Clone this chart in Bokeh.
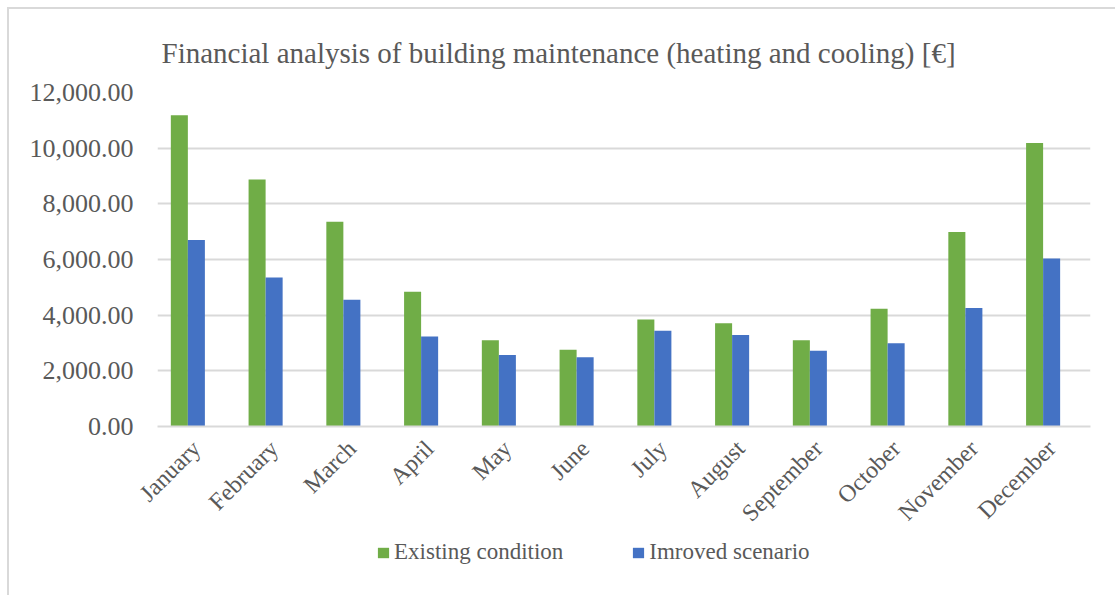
from bokeh.plotting import figure
from bokeh.models import ColumnDataSource, Range1d, NumeralTickFormatter, Legend, LegendItem, FixedTicker, Label
from bokeh.layouts import column
from bokeh.transform import dodge
from bokeh.embed import file_html
from bokeh.resources import INLINE
import math

months = ["January", "February", "March", "April", "May", "June", "July",
          "August", "September", "October", "November", "December"]
existing = [11180, 8870, 7360, 4840, 3100, 2760, 3840, 3710, 3100, 4230, 6990, 10190]
improved = [6700, 5350, 4550, 3230, 2570, 2490, 3440, 3290, 2720, 2990, 4260, 6040]
y_ticks = [0, 2000, 4000, 6000, 8000, 10000, 12000]

title_text = "Financial analysis of building maintenance (heating and cooling) [€]"
series_names = ["Existing condition", "Imroved scenario"]

GREEN = "#70ad47"
BLUE = "#4472c4"
TEXT = "#595959"
GRID = "#d9d9d9"
FONT = "Liberation Serif"

source = ColumnDataSource(dict(month=months, existing=existing, improved=improved))

# ---- title strip ----
p0 = figure(width=1106, height=60, x_range=Range1d(157, 1090), y_range=Range1d(69, 9),
            output_backend="svg", toolbar_location=None, title_location=None,
            x_axis_type=None, y_axis_type=None, min_border=0)
p0.outline_line_color = None
p0.xgrid.grid_line_color = None
p0.ygrid.grid_line_color = None
p0.add_layout(Label(x=161, y=52, text=title_text, text_font=FONT, text_font_size="29px",
                    text_color=TEXT, text_baseline="alphabetic", text_align="left"))

# ---- main chart ----
p = figure(width=1106, height=470, x_range=months, y_range=Range1d(0, 12000),
           output_backend="svg", toolbar_location=None, title_location=None,
           min_border_left=148, min_border_right=25, min_border_top=23, min_border_bottom=113)
p.outline_line_color = None
p.background_fill_color = "white"
p.border_fill_color = "white"

bw = 0.219
r1 = p.vbar(x=dodge("month", -bw, range=p.x_range), top="existing", width=bw,
            source=source, fill_color=GREEN, line_color=None)
r2 = p.vbar(x=dodge("month", 0.0, range=p.x_range), top="improved", width=bw,
            source=source, fill_color=BLUE, line_color=None)

p.yaxis.ticker = FixedTicker(ticks=y_ticks)
p.yaxis.formatter = NumeralTickFormatter(format="0,0.00")
p.yaxis.major_label_text_font = FONT
p.yaxis.major_label_text_font_size = "26px"
p.yaxis.major_label_text_color = TEXT
p.yaxis.axis_line_color = None
p.yaxis.major_tick_line_color = None
p.yaxis.minor_tick_line_color = None
p.yaxis.major_label_standoff = 18

p.xaxis.major_label_orientation = math.pi / 4
p.xaxis.major_label_text_font = FONT
p.xaxis.major_label_text_font_size = "24px"
p.xaxis.major_label_text_color = TEXT
p.xaxis.axis_line_color = GRID
p.xaxis.axis_line_width = 2
p.xaxis.major_tick_line_color = None
p.xaxis.minor_tick_line_color = None
p.xaxis.major_label_standoff = 12

p.xgrid.grid_line_color = None
p.ygrid.grid_line_color = GRID
p.ygrid.grid_line_width = 2
p.x_range.range_padding = 0

# ---- legend strip ----
p2 = figure(width=1106, height=56, x_range=Range1d(0, 1), y_range=Range1d(0, 1),
            output_backend="svg", toolbar_location=None, title_location=None,
            x_axis_type=None, y_axis_type=None, min_border=0)
p2.outline_line_color = None
p2.xgrid.grid_line_color = None
p2.ygrid.grid_line_color = None
d1 = p2.vbar(x=[5], top=[0], width=0.1, fill_color=GREEN, line_color=None)
d2 = p2.vbar(x=[5], top=[0], width=0.1, fill_color=BLUE, line_color=None)

legend = Legend(items=[LegendItem(label=series_names[0], renderers=[d1]),
                       LegendItem(label=series_names[1], renderers=[d2])],
                orientation="horizontal", location=(219, 30),
                glyph_width=14, glyph_height=13, label_standoff=4, spacing=68,
                label_text_font=FONT, label_text_font_size="23px", label_text_color=TEXT,
                border_line_color=None, background_fill_alpha=0, padding=0, margin=0)
p2.add_layout(legend, "center")

layout = column(p0, p, p2, spacing=0)
layout.styles = {"margin-left": "7px", "margin-top": "7px",
                 "border-left": "2px solid #d9d9d9", "border-top": "2px solid #d9d9d9"}

open("out.html", "w").write(file_html(layout, INLINE))
